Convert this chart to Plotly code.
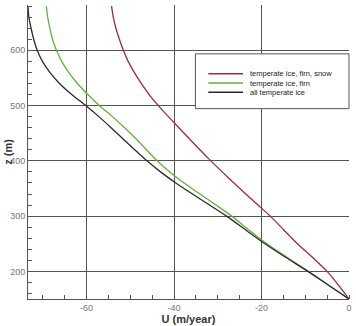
import plotly.graph_objects as go

# elevation values (m)
z = [680, 660, 640, 620, 600, 580, 560, 540, 520, 500, 480, 460, 440, 420, 400,
     380, 360, 340, 320, 300, 275, 250, 225, 200, 175, 150]

u_snow = [-54.3, -53.9, -53.3, -52.5, -51.6, -50.5, -49.1, -47.5, -45.7, -43.6,
          -41.3, -38.9, -36.5, -34.1, -31.6, -29.0, -26.3, -23.6, -20.8, -18.0,
          -14.9, -11.8, -8.3, -5.0, -2.4, 0.0]
u_firn = [-69.2, -68.9, -68.4, -67.8, -66.9, -65.7, -64.1, -62.1, -59.7, -57.1,
          -54.1, -51.3, -48.7, -46.3, -43.9, -41.0, -37.7, -34.1, -30.4, -26.8,
          -22.9, -18.8, -14.1, -9.3, -4.6, 0.0]
u_all = [-73.4, -73.2, -72.7, -72.1, -71.3, -70.1, -68.4, -66.2, -63.4, -60.2,
         -57.2, -54.4, -51.7, -49.0, -46.2, -43.1, -39.6, -35.8, -31.9, -28.0,
         -23.6, -19.2, -14.4, -9.4, -4.7, 0.0]

series_names = ["temperate ice, firn, snow", "temperate ice, firn", "all temperate ice"]
series_vals = [u_snow, u_firn, u_all]
series_colors = ["#9e2a40", "#5cb53c", "#2a2a2a"]

x_ticks = [-60, -40, -20, 0]
y_ticks = [200, 300, 400, 500, 600]

fig = go.Figure()
for name, vals, col in zip(series_names, series_vals, series_colors):
    fig.add_trace(go.Scatter(x=vals, y=z, mode="lines", name=name,
                             line=dict(color=col, width=1.3, shape="spline", smoothing=0.8),
                             showlegend=False))

W, H = 356, 326
ml, mr, mt, mb = 28, 4, 5, 26
pw, ph = W - ml - mr, H - mt - mb

def px_to_paper(xp, yp):
    return (xp - ml) / pw, (H - mb - yp) / ph

# legend box drawn in paper space
x0, y0 = px_to_paper(197, 54)
x1, y1 = px_to_paper(352, 109)
shapes = [dict(type="rect", xref="paper", yref="paper", x0=x0, y0=y1, x1=x1, y1=y0,
               line=dict(color="#555", width=1), fillcolor="white", layer="above")]
annotations = []
for i, (name, col) in enumerate(zip(series_names, series_colors)):
    yy = 74 + 9.3 * i
    lx0, ly = px_to_paper(210, yy)
    lx1, _ = px_to_paper(245, yy)
    shapes.append(dict(type="line", xref="paper", yref="paper", x0=lx0, x1=lx1,
                       y0=ly, y1=ly, line=dict(color=col, width=1.5), layer="above"))
    tx, _ = px_to_paper(250, yy)
    annotations.append(dict(xref="paper", yref="paper", x=tx, y=ly, text=name,
                            showarrow=False, xanchor="left", yanchor="middle",
                            font=dict(family="Liberation Sans, Arial", size=7.5, color="#1a1a1a")))

ax, ay = px_to_paper(7, 152)
annotations.append(dict(xref="paper", yref="paper", x=ax, y=ay, text="<b>z (m)</b>",
                        textangle=-90, showarrow=False, xanchor="center", yanchor="middle",
                        font=dict(family="Liberation Sans, Arial", size=11, color="#333")))

fig.update_layout(
    width=W, height=H,
    margin=dict(l=ml, r=mr, t=mt, b=mb),
    paper_bgcolor="white", plot_bgcolor="white",
    shapes=shapes, annotations=annotations,
    font=dict(family="Liberation Sans, Arial", size=9, color="#777"),
)
fig.update_xaxes(
    range=[-73.4, 0], tickvals=x_ticks, ticktext=[str(v) for v in x_ticks],
    showgrid=True, gridcolor="#555", gridwidth=1, zeroline=False,
    showline=True, linecolor="#555", linewidth=1, ticks="",
    minor=dict(dtick=5, tick0=0, ticks="inside", ticklen=4, tickcolor="#555", showgrid=False),
    title=dict(text="<b>U (m/year)</b>", standoff=2,
               font=dict(family="Liberation Sans, Arial", size=11, color="#333")),
    tickfont=dict(size=9, color="#777"),
)
fig.update_yaxes(
    range=[150, 682], tickvals=y_ticks, ticktext=[str(v) for v in y_ticks],
    showgrid=True, gridcolor="#555", gridwidth=1, zeroline=False,
    showline=True, linecolor="#555", linewidth=1, ticks="",
    minor=dict(dtick=20, tick0=0, ticks="inside", ticklen=4, tickcolor="#555", showgrid=False),
    tickfont=dict(size=9, color="#777"),
)

fig.write_html("out.html")
